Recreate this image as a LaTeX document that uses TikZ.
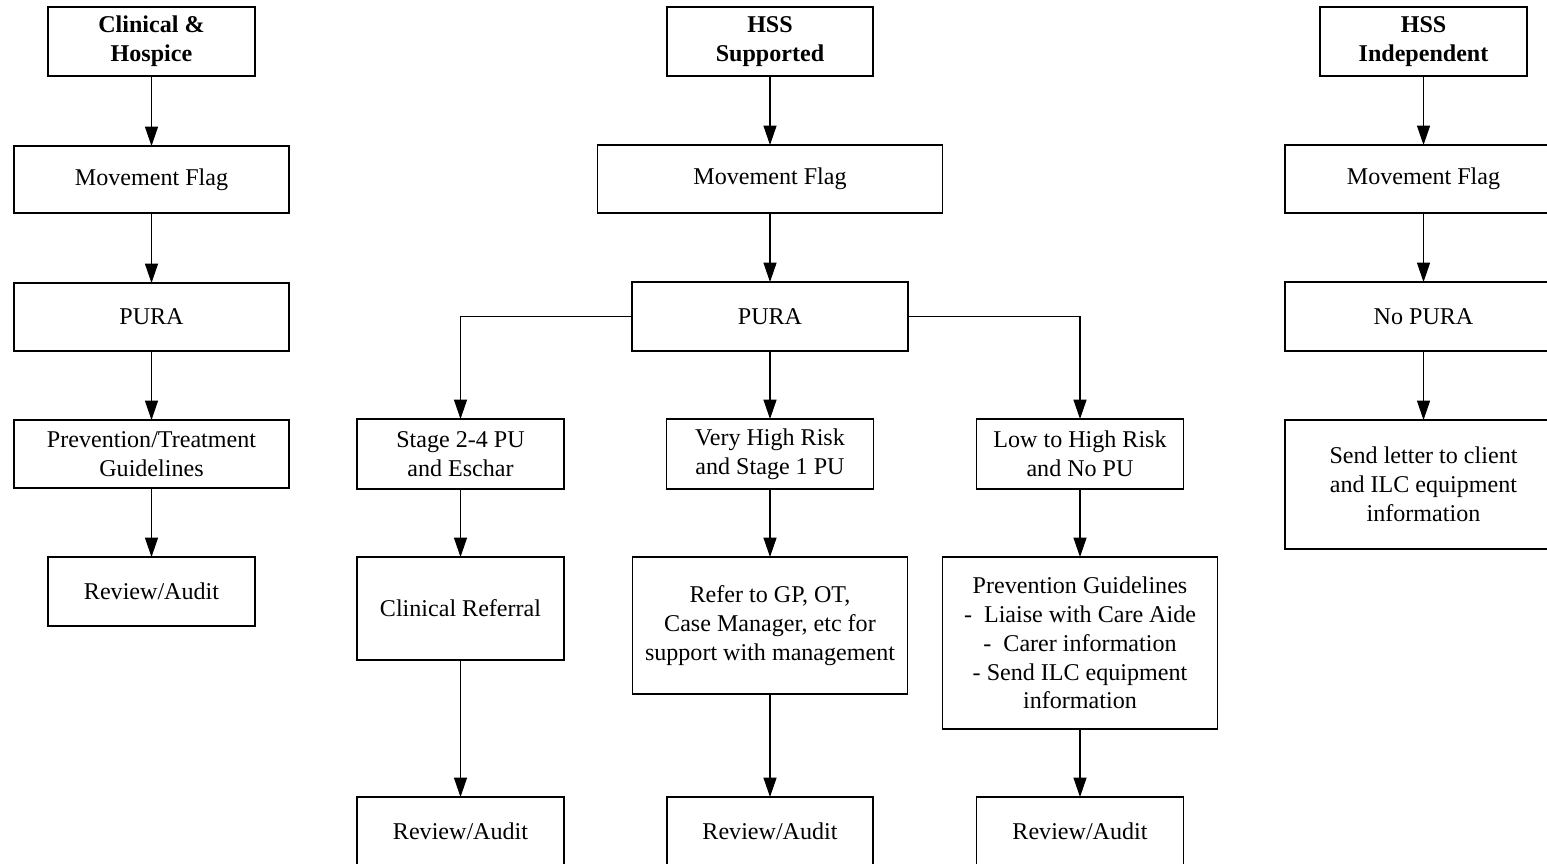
\documentclass[tikz,border=0pt]{standalone}
\usepackage{fontspec}
\setmainfont{Liberation Serif}
\usetikzlibrary{arrows.meta}
\tikzset{
  box/.style 2 args={draw=black, line width=1pt, fill=white, inner sep=0pt, outer sep=0pt,
    minimum width=#1*0.02cm, minimum height=#2*0.02cm, align=center,
    font=\fontsize{13.7pt}{16.4pt}\selectfont},
  head/.style={font=\fontsize{13.7pt}{16.4pt}\selectfont\bfseries},
  conn/.style={draw=black, line width=0.6pt, -{Triangle[length=11pt,width=7.4pt]}},
  link/.style={draw=black, line width=0.6pt}
}
\begin{document}
\begin{tikzpicture}[x=0.02cm, y=-0.02cm]
\useasboundingbox (0,0) rectangle (1547,863);
\clip (0,0) rectangle (1547,863);
% left column
\node[box={207}{69}, head] (ch) at (151.5,41.5) {Clinical \&\\Hospice};
\node[box={275}{67}] (mf1) at (151.5,179.5) {Movement Flag};
\node[box={275}{68}] (pura1) at (151.5,317) {PURA};
\node[box={275}{68}] (ptg) at (151.5,454) {Prevention/Treatment\\Guidelines};
\node[box={207}{69}] (ra1) at (151.5,591.5) {Review/Audit};
% middle column
\node[box={206}{69}, head] (hs) at (770,41.5) {HSS\\Supported};
\node[box={345}{68}] (mf2) at (770,179) {Movement Flag};
\node[box={276}{69}] (pura2) at (770,316.5) {PURA};
\node[box={207}{70}] (s24) at (460.5,454) {Stage 2-4 PU\\and Eschar};
\node[box={207}{70}] (vhr) at (770,454) {Very High Risk\\and Stage 1 PU};
\node[box={207}{70}] (lhr) at (1080,454) {Low to High Risk\\and No PU};
\node[box={207}{103}] (cr) at (460.5,608.5) {Clinical Referral};
\node[box={275}{137}] (ref) at (770,625.5) {Refer to GP, OT,\\Case Manager, etc for\\support with management};
\node[box={275}{172}] (pg) at (1080,643) {Prevention Guidelines\\-\ \ Liaise with Care Aide\\-\ \ Carer information\\- Send ILC equipment\\information};
\node[box={207}{68}] (ra2) at (460.5,831) {Review/Audit};
\node[box={206}{68}] (ra3) at (770,831) {Review/Audit};
\node[box={207}{68}] (ra4) at (1080,831) {Review/Audit};
% right column
\node[box={207}{69}, head] (hi) at (1423.5,41.5) {HSS\\Independent};
\node[box={277}{68}] (mf3) at (1423.5,179) {Movement Flag};
\node[box={277}{69}] (np) at (1423.5,316.5) {No PURA};
\node[box={277}{129}] (sl) at (1423.5,484.5) {Send letter to client\\and ILC equipment\\information};
% connectors
\draw[conn] (ch) -- (mf1);
\draw[conn] (mf1) -- (pura1);
\draw[conn] (pura1) -- (ptg);
\draw[conn] (ptg) -- (ra1);
\draw[conn] (hs) -- (mf2);
\draw[conn] (mf2) -- (pura2);
\draw[conn] (pura2.west) -| (s24.north);
\draw[conn] (pura2) -- (vhr);
\draw[conn] (pura2.east) -| (lhr.north);
\draw[conn] (s24) -- (cr);
\draw[conn] (vhr) -- (ref);
\draw[conn] (lhr) -- (pg);
\draw[conn] (cr) -- (ra2);
\draw[conn] (ref) -- (ra3);
\draw[conn] (pg) -- (ra4);
\draw[conn] (hi) -- (mf3);
\draw[conn] (mf3) -- (np);
\draw[conn] (np) -- (sl);
\end{tikzpicture}
\end{document}
